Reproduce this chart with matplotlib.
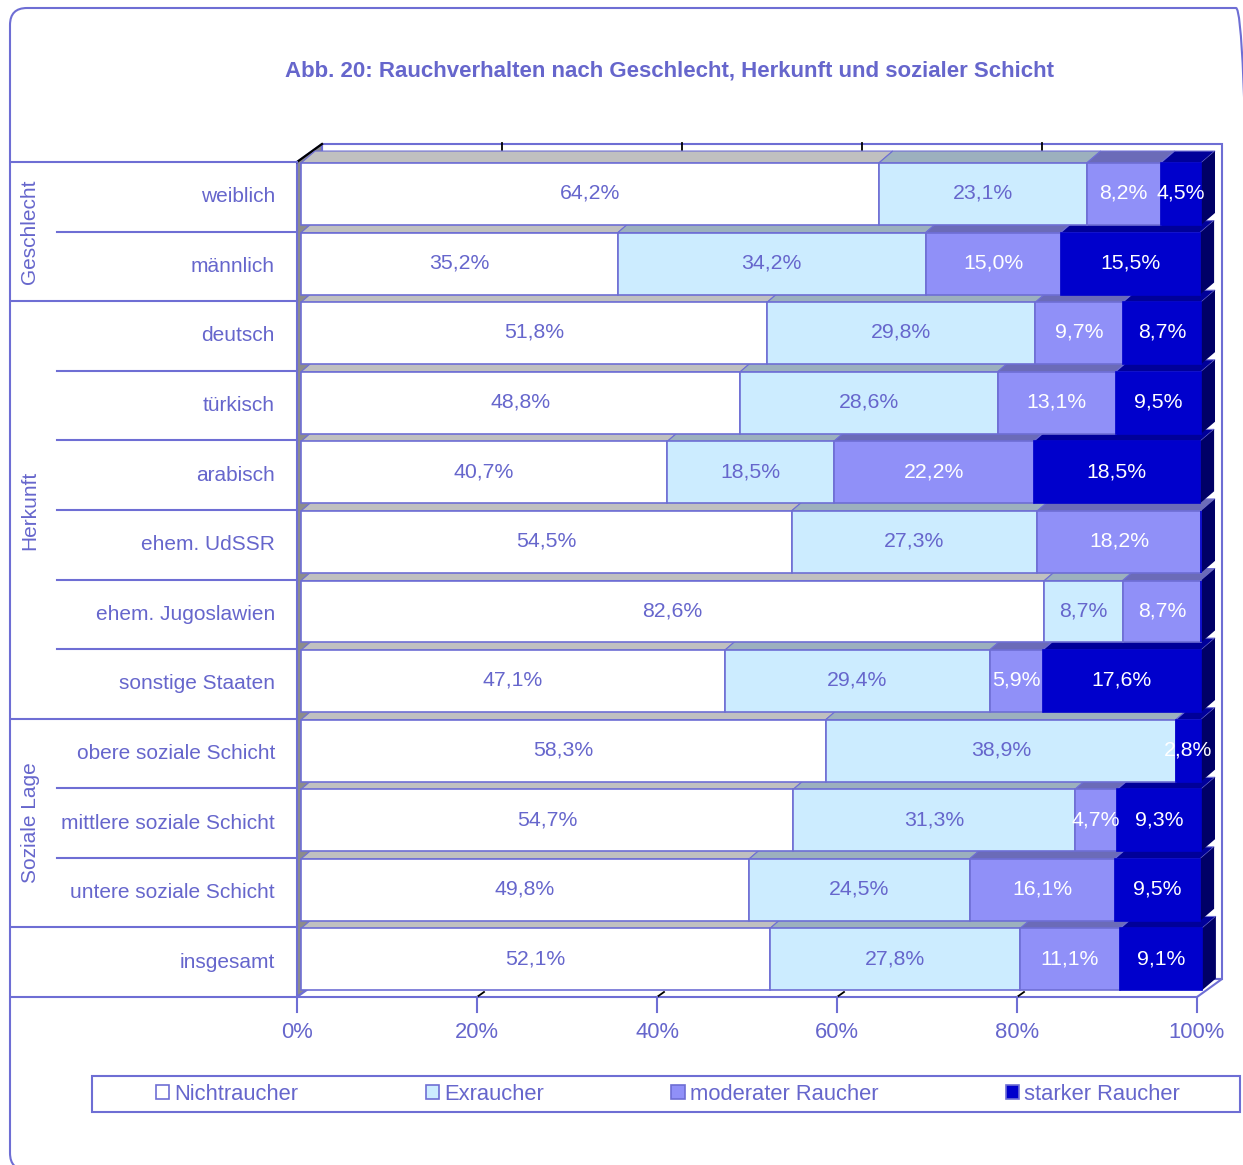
import matplotlib
matplotlib.use("Agg")
import matplotlib.pyplot as plt
import numpy as np
from matplotlib.patches import Polygon, Rectangle, FancyBboxPatch

plt.rcParams["font.family"] = ["Liberation Sans", "DejaVu Sans"]

# ---- data -------------------------------------------------------------
categories = ["weiblich", "männlich", "deutsch", "türkisch", "arabisch",
              "ehem. UdSSR", "ehem. Jugoslawien", "sonstige Staaten",
              "obere soziale Schicht", "mittlere soziale Schicht",
              "untere soziale Schicht", "insgesamt"]
group_names = ["Geschlecht", "Herkunft", "Soziale Lage"]
group_spans = [(0, 2), (2, 8), (8, 11)]
series_names = ["Nichtraucher", "Exraucher", "moderater Raucher", "starker Raucher"]
nichtraucher = [64.2, 35.2, 51.8, 48.8, 40.7, 54.5, 82.6, 47.1, 58.3, 54.7, 49.8, 52.1]
exraucher = [23.1, 34.2, 29.8, 28.6, 18.5, 27.3, 8.7, 29.4, 38.9, 31.3, 24.5, 27.8]
moderat = [8.2, 15.0, 9.7, 13.1, 22.2, 18.2, 8.7, 5.9, 0.0, 4.7, 16.1, 11.1]
stark = [4.5, 15.5, 8.7, 9.5, 18.5, 0.0, 0.0, 17.6, 2.8, 9.3, 9.5, 9.1]
x_ticks = [0, 20, 40, 60, 80, 100]
title = "Abb. 20: Rauchverhalten nach Geschlecht, Herkunft und sozialer Schicht"

# ---- style --------------------------------------------------------------
W, H, DPI = 1243, 1165, 100
PURPLE = "#6E6ED4"
TEXT = "#6666CC"
front_colors = ["#FFFFFF", "#CCECFF", "#9090F8", "#0000CC"]
top_colors = ["#C0C0C0", "#9CB0BE", "#6B6BB8", "#000099"]
side_color = "#000066"
label_colors = [TEXT, TEXT, "#FFFFFF", "#FFFFFF"]

fig = plt.figure(figsize=(W / DPI, H / DPI), dpi=DPI)
fig.patch.set_facecolor("white")

# plot region in pixels (front plane of the bars)
AX_L, AX_R, AX_T, AX_B = 301, 1201, 162, 997
ax = fig.add_axes([AX_L / W, 1 - AX_B / H, (AX_R - AX_L) / W, (AX_B - AX_T) / H])
n = len(categories)
ax.set_xlim(0, 100)
ax.set_ylim(n, 0)
ax.set_axis_off()

ux = 100.0 / (AX_R - AX_L)      # data units per pixel (x)
uy = n / (AX_B - AX_T)          # data units per pixel (y, downward)


def P(px, py):
    """pixel position -> data coordinates of the main axes"""
    return ((px - AX_L) * ux, (py - AX_T) * uy)


# ---- 3D box: back wall, left wall, floor ----------------------------------
wall = Polygon([P(322, 144), P(1222, 144), P(1222, 979), P(322, 979)], closed=True,
               facecolor="white", edgecolor=PURPLE, lw=1.5, zorder=1, clip_on=False)
ax.add_patch(wall)
left_wall = Polygon([P(297, 162), P(322, 144), P(322, 979), P(297, 997)], closed=True,
                    facecolor="#8C8C8C", edgecolor=PURPLE, lw=1.5, zorder=2, clip_on=False)
ax.add_patch(left_wall)
floor = Polygon([P(297, 997), P(1197, 997), P(1222, 979), P(322, 979)], closed=True,
                facecolor="white", edgecolor=PURPLE, lw=1.5, zorder=2, clip_on=False)
ax.add_patch(floor)
# top edge of the left wall
ax.plot(*zip(P(297, 162), P(322, 144)), color="black", lw=1.6, zorder=3, clip_on=False)
# grid stubs on wall top and floor
for k in range(1, 5):
    xb = 322 + 180 * k
    ax.plot(*zip(P(xb, 143), P(xb, 150)), color="black", lw=1.3, zorder=3, clip_on=False)
    xf = 297 + 180 * k
    ax.plot(*zip(P(xf, 997), P(xf + 7, 992)), color="black", lw=1.3, zorder=3, clip_on=False)

# ---- bars ---------------------------------------------------------------
series = [nichtraucher, exraucher, moderat, stark]
bar_h = 0.89
y_center = np.arange(n) + 0.46
dx, dy = 14 * ux, 12 * uy

lefts = np.zeros(n)
for j, vals in enumerate(series):
    vals = np.array(vals, dtype=float)
    ax.barh(y_center, vals, left=lefts, height=bar_h, color=front_colors[j],
            edgecolor=PURPLE if j < 3 else front_colors[j], linewidth=1.2,
            zorder=20, clip_on=False)
    for i in range(n):
        v = vals[i]
        top = y_center[i] - bar_h / 2
        x0, x1 = lefts[i], lefts[i] + v
        if v > 0:
            face = Polygon([(x0, top), (x1, top), (x1 + dx, top - dy), (x0 + dx, top - dy)],
                           closed=True, facecolor=top_colors[j], edgecolor=PURPLE,
                           lw=0.8, zorder=10, clip_on=False)
            ax.add_patch(face)
            ax.text((x0 + x1) / 2, y_center[i] - 0.01,
                    f"{v:.1f}".replace(".", ",") + "%", ha="center", va="center",
                    color=label_colors[j], fontsize=15.3, zorder=50, clip_on=False)
    lefts = lefts + vals

# right side faces
for i in range(n):
    top = y_center[i] - bar_h / 2
    bot = y_center[i] + bar_h / 2
    R = lefts[i]
    side = Polygon([(R, top), (R + dx, top - dy), (R + dx, bot - dy), (R, bot)],
                   closed=True, facecolor=side_color, edgecolor="none",
                   zorder=11, clip_on=False)
    ax.add_patch(side)

# ---- hierarchical category axis ------------------------------------------
group_bounds = {0, 2, 8, 11, 12}
for b in range(n + 1):
    x_start = 12 if b in group_bounds else 57
    ax.plot([P(x_start, 0)[0], P(297, 0)[0]], [b, b], color=PURPLE, lw=1.5,
            zorder=3, clip_on=False)
for i, cat in enumerate(categories):
    ax.text(P(275, 0)[0], i + 0.5, cat, ha="right", va="center", color=TEXT,
            fontsize=15, clip_on=False)
for name, (a, b) in zip(group_names, group_spans):
    ax.text(P(30, 0)[0], (a + b) / 2, name, ha="center", va="center", rotation=90,
            color=TEXT, fontsize=15, clip_on=False)

# ---- value axis on the floor edge --------------------------------------------
shift = P(297, 0)[0]  # floor front edge sits left of the bar front plane
for t in x_ticks:
    xt = t + shift
    ax.plot([xt, xt], [P(0, 997)[1], P(0, 1012)[1]], color=PURPLE, lw=1.5,
            zorder=3, clip_on=False)
    ax.text(xt, P(0, 1033)[1], f"{t}%", ha="center", va="center", color=TEXT,
            fontsize=15.8, clip_on=False)

# ---- title ----------------------------------------------------------------
fig.text(670 / W, 1 - 71 / H, title, ha="center", va="center", color=TEXT,
         fontsize=16, fontweight="bold")

# ---- legend ---------------------------------------------------------------
handles = [Rectangle((0, 0), 1, 1, facecolor=c, edgecolor=PURPLE, lw=1.2)
           for c in front_colors]
leg = fig.legend(handles, series_names, loc="center", ncol=4,
                 bbox_to_anchor=(668 / W, 1 - 1094 / H), frameon=False,
                 fontsize=15.8, columnspacing=5.8, handlelength=0.6,
                 handleheight=0.6, handletextpad=0.25)
for txt in leg.get_texts():
    txt.set_color(TEXT)
fig.patches.append(Rectangle((92 / DPI, (H - 1112) / DPI), (1240 - 92) / DPI, 36 / DPI,
                             transform=fig.dpi_scale_trans, facecolor="none",
                             edgecolor=PURPLE, lw=1.5))

# ---- outer rounded frame --------------------------------------------------------
fig.patches.append(FancyBboxPatch((10 / DPI, (H - 1170) / DPI), 1243 / DPI, 1162 / DPI,
                                  boxstyle="round,pad=0,rounding_size=0.17",
                                  transform=fig.dpi_scale_trans, facecolor="none",
                                  edgecolor=PURPLE, lw=1.5))

fig.savefig("out.png", dpi=DPI)
